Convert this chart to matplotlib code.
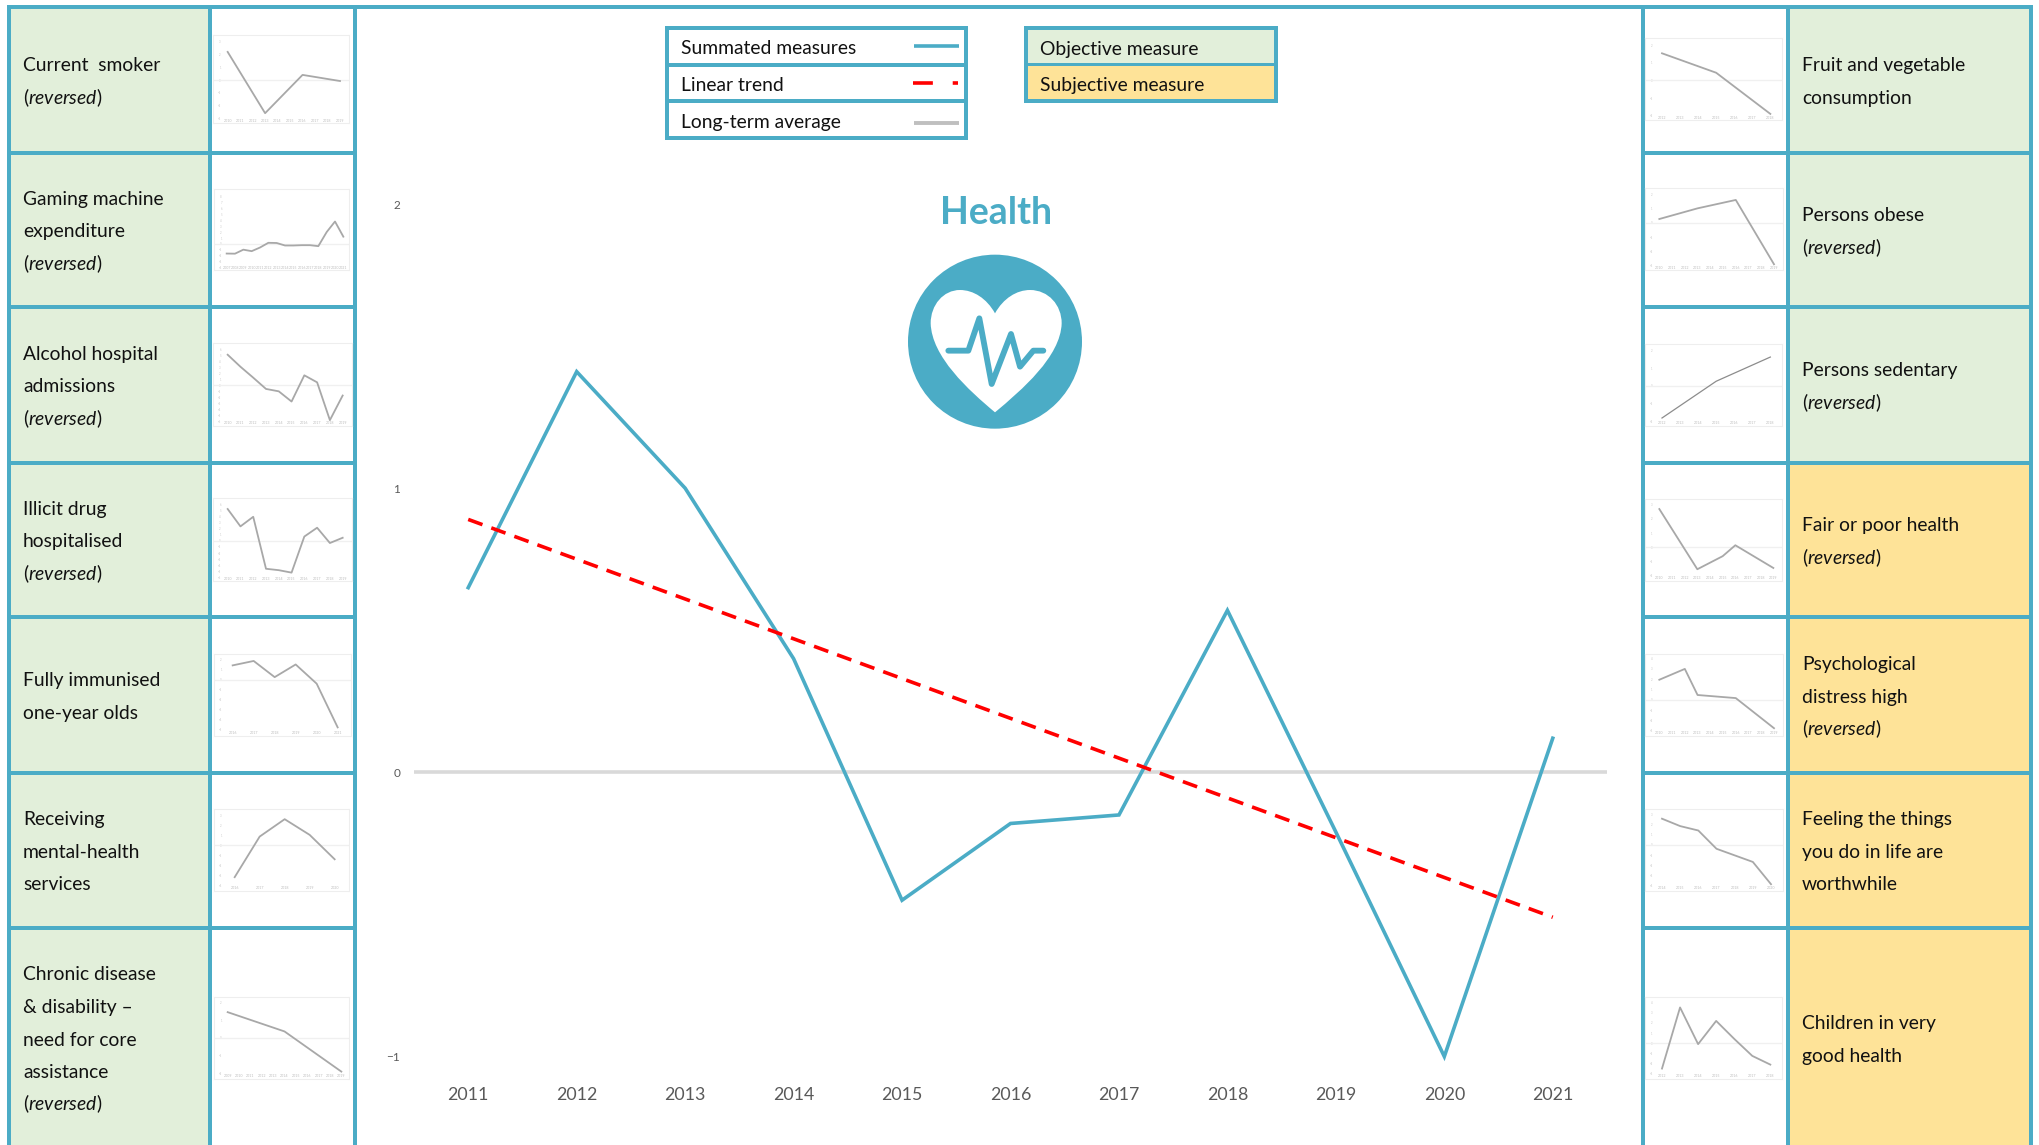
import matplotlib
matplotlib.use("Agg")
import matplotlib.pyplot as plt
from matplotlib.patches import Rectangle, Circle, PathPatch
from matplotlib.path import Path

# ---------- data ----------
years = [2011, 2012, 2013, 2014, 2015, 2016, 2017, 2018, 2019, 2020, 2021]
summated = [0.65, 1.41, 1.0, 0.40, -0.45, -0.18, -0.15, 0.57, -0.21, -1.0, 0.12]
trend_years = [2011, 2021]
trend_vals = [0.89, -0.51]
long_term_avg = [0, 0]
y_ticks = [-1, 0, 1, 2]

smoker_ticks = list(range(2010, 2020))
smoker_x = [2010, 2013, 2016, 2019]
smoker_y = [2.2, -2.6, 0.4, -0.08]

gaming_ticks = list(range(2007, 2022))
gaming_x = gaming_ticks
gaming_y = [-1.6, -1.62, -0.95, -1.2, -0.59, 0.2, 0.17, -0.25, -0.25, -0.2, -0.2, -0.36, 2.0, 3.77, 1.23]

alcohol_ticks = list(range(2010, 2020))
alcohol_x = alcohol_ticks
alcohol_y = [5.1, 3.1, 1.28, -0.6, -1.0, -2.7, 1.67, 0.5, -5.8, -1.7]

illicit_ticks = list(range(2010, 2020))
illicit_x = illicit_ticks
illicit_y = [5.2, 2.36, 3.93, -4.57, -4.8, -5.2, 0.7, 2.14, -0.36, 0.5]

immunised_ticks = list(range(2016, 2022))
immunised_x = immunised_ticks
immunised_y = [1.43, 1.87, 0.26, 1.52, -0.39, -4.74]

mental_ticks = list(range(2016, 2021))
mental_x = mental_ticks
mental_y = [-3.17, 0.87, 2.6, 1.04, -1.39]

chronic_ticks = list(range(2009, 2020))
chronic_x = [2009, 2014, 2019]
chronic_y = [1.46, 0.37, -1.9]

fruit_ticks = list(range(2012, 2019))
fruit_x = [2012, 2015, 2018]
fruit_y = [1.53, 0.43, -1.9]

obese_ticks = list(range(2010, 2020))
obese_x = [2010, 2013, 2016, 2019]
obese_y = [0.28, 1.03, 1.62, -2.9]

sedentary_ticks = list(range(2012, 2019))
sedentary_x = [2012, 2015, 2018]
sedentary_y = [-1.83, 0.25, 1.62]

fair_ticks = list(range(2010, 2020))
fair_x = [2010, 2013, 2015, 2016, 2019]
fair_y = [2.7, -1.54, -0.62, 0.15, -1.45]

distress_ticks = list(range(2010, 2020))
distress_x = [2010, 2012, 2013, 2016, 2019]
distress_y = [1.95, 3.0, 0.47, 0.17, -2.75]

worthwhile_ticks = list(range(2014, 2021))
worthwhile_x = worthwhile_ticks
worthwhile_y = [2.55, 1.83, 1.4, -0.38, -1.02, -1.66, -3.83]

children_ticks = list(range(2012, 2019))
children_x = children_ticks
children_y = [-2.5, 3.53, -0.09, 2.2, 0.43, -1.25, -2.11]

left_labels = [
    ["Current  smoker", "(@)"],
    ["Gaming machine", "expenditure", "(@)"],
    ["Alcohol hospital", "admissions", "(@)"],
    ["Illicit drug", "hospitalised", "(@)"],
    ["Fully immunised", "one-year olds"],
    ["Receiving", "mental-health", "services"],
    ["Chronic disease", "& disability \u2013", "need for core", "assistance", "(@)"],
]
right_labels = [
    ["Fruit and vegetable", "consumption"],
    ["Persons obese", "(@)"],
    ["Persons sedentary", "(@)"],
    ["Fair or poor health", "(@)"],
    ["Psychological", "distress high", "(@)"],
    ["Feeling the things", "you do in life are", "worthwhile"],
    ["Children in very", "good health"],
]
right_objective = [True, True, True, False, False, False, False]

# ---------- style ----------
TEAL = "#4BACC6"
GREEN = "#E2EFDA"
YELLOW = "#FEE398"
FONT = "Lato"
TXT = 19.3 * 0.72 / 0.72 * 0.72 * 1.0
plt.rcParams["font.family"] = FONT
plt.rcParams["mathtext.fontset"] = "custom"
plt.rcParams["mathtext.rm"] = "Lato"
plt.rcParams["mathtext.it"] = "Lato:italic"

W, H = 2040, 1145
fig = plt.figure(figsize=(W / 100, H / 100), dpi=100)
bg = fig.add_axes([0, 0, 1, 1])
bg.set_xlim(0, W)
bg.set_ylim(H, 0)
bg.axis("off")


def rect(x0, y0, x1, y1, color, z=1):
    bg.add_patch(Rectangle((x0, y0), x1 - x0, y1 - y0, fc=color, ec="none", zorder=z))


rows = [7, 153, 307, 463, 617, 773, 928, 1150]
for i in range(7):
    rect(9, rows[i], 210, rows[i + 1], GREEN)
    rect(1788, rows[i], 2031, rows[i + 1], GREEN if right_objective[i] else YELLOW)
for x in [9, 210, 355, 1643, 1788, 2031]:
    rect(x - 2, 5, x + 2, H, TEAL, 3)
rect(7, 5, 2033, 9, TEAL, 3)
for y in rows[1:7]:
    rect(7, y - 2, 357, y + 2, TEAL, 3)
    rect(1641, y - 2, 2033, y + 2, TEAL, 3)


def line_text(x, yc, lines, size=TXT):
    pitch = 32.5
    n = len(lines)
    for i, s in enumerate(lines):
        y = yc + (i - (n - 1) / 2) * pitch + 7.5
        if s == "(@)":
            s = r"($\mathit{reversed}$)"
        bg.text(x, y, s, fontsize=size, va="baseline", ha="left", color="#111111", zorder=5)


for i in range(7):
    yc = (rows[i] + min(rows[i + 1], 1148)) / 2
    line_text(23, yc, left_labels[i])
    line_text(1802, yc, right_labels[i])

# ---------- legends ----------
for x0, x1, y0, y1 in [(665, 968, 26, 140), (1024, 1278, 26, 103)]:
    rect(x0, y0, x1, y1, "white", 1)
rect(1026, 28, 1276, 64, GREEN, 2)
rect(1026, 64, 1276, 101, YELLOW, 2)
for x0, x1, y0, y1 in [(665, 968, 26, 140), (1024, 1278, 26, 103)]:
    rect(x0, y0, x1, y0 + 4, TEAL, 3)
    rect(x0, y1 - 4, x1, y1, TEAL, 3)
    rect(x0, y0, x0 + 4, y1, TEAL, 3)
    rect(x1 - 4, y0, x1, y1, TEAL, 3)
rect(665, 63, 968, 67, TEAL, 3)
rect(665, 99, 968, 103, TEAL, 3)
rect(1024, 63, 1278, 66, TEAL, 3)
for s, y in [("Summated measures", 54.5), ("Linear trend", 91), ("Long-term average", 128)]:
    bg.text(681, y, s, fontsize=TXT, va="baseline", color="#111111", zorder=5)
for s, y in [("Objective measure", 54.5), ("Subjective measure", 91)]:
    bg.text(1040, y, s, fontsize=TXT, va="baseline", color="#111111", zorder=5)
bg.plot([914, 959], [46, 46], color=TEAL, lw=2.6, zorder=5, solid_capstyle="butt")
bg.plot([913, 958], [83, 83], color="#FF0000", lw=2.6, zorder=5, dashes=(5.5, 5.5))
bg.plot([914, 959], [123, 123], color="#BFBFBF", lw=2.8, zorder=5, solid_capstyle="butt")

# ---------- title + icon ----------
bg.text(996, 213, "Health", fontsize=27, fontweight="bold", color=TEAL, ha="center", va="center", zorder=5)
ix, iy = 880, 180
def Z(x, y):
    return (ix + x / 3, iy + y / 3)
bg.add_patch(Circle(Z(345, 485), 87, fc=TEAL, ec="none", zorder=4))
heart = [
    (Path.MOVETO, (345, 400)),
    (Path.CURVE4, (320, 355)), (Path.CURVE4, (280, 330)), (Path.CURVE4, (240, 330)),
    (Path.CURVE4, (190, 330)), (Path.CURVE4, (152, 375)), (Path.CURVE4, (152, 430)),
    (Path.CURVE4, (155, 530)), (Path.CURVE4, (265, 630)), (Path.CURVE4, (345, 697)),
    (Path.CURVE4, (425, 630)), (Path.CURVE4, (542, 530)), (Path.CURVE4, (545, 430)),
    (Path.CURVE4, (545, 375)), (Path.CURVE4, (505, 330)), (Path.CURVE4, (450, 330)),
    (Path.CURVE4, (410, 330)), (Path.CURVE4, (370, 355)), (Path.CURVE4, (345, 400)),
    (Path.CLOSEPOLY, (345, 400)),
]
bg.add_patch(PathPatch(Path([Z(*p) for _, p in heart], [c for c, _ in heart]), fc="white", ec="none", zorder=5))
pulse = [(205, 512), (265, 512), (298, 415), (335, 612), (393, 462), (420, 560), (460, 512), (490, 512)]
bg.plot(*zip(*[Z(*p) for p in pulse]), color=TEAL, lw=4.2, zorder=6, solid_joinstyle="round", solid_capstyle="round")

# ---------- main chart ----------
def axes_px(x0, x1, y0, y1):
    return fig.add_axes([x0 / W, 1 - y1 / H, (x1 - x0) / W, (y1 - y0) / H], facecolor="none")


ax = axes_px(414, 1607, 204, 1056.5)
ax.set_zorder(3)
ax.set_xlim(years[0] - 0.5, years[-1] + 0.5)
ax.set_ylim(y_ticks[0], y_ticks[-1])
for s in ax.spines.values():
    s.set_visible(False)
ax.plot([years[0] - 0.5, years[-1] + 0.5], long_term_avg, color="#D9D9D9", lw=2.6, solid_capstyle="butt")
ax.plot(years, summated, color=TEAL, lw=2.6, clip_on=False, solid_joinstyle="miter")
ax.plot(trend_years, trend_vals, color="#FF0000", lw=2.6, dashes=(4.2, 2.6))
ax.set_xticks(years)
ax.set_xticklabels([str(y) for y in years])
ax.set_yticks(y_ticks)
ax.tick_params(axis="x", length=0, pad=22, labelsize=16 * 0.8, labelcolor="#595959")
ax.tick_params(axis="y", length=0, pad=10, labelsize=8.5, labelcolor="#595959")

# ---------- sparklines ----------
# frame x0,x1,y0,y1 (figure pixels), first/last tick x, zero y, px per unit, y tick range
top3 = lambda v: v / 3
low = lambda v: 460 + v / 2.289
lx = lambda v: v / 3
rx = lambda v: 1630 + v / 3
sparks = [
    (smoker_ticks, smoker_x, smoker_y, lx, top3, 640, 1046, 105, 370, 683, 1020, 240, 38.3, -3, 3, 1),
    (gaming_ticks, gaming_x, gaming_y, lx, top3, 643, 1048, 568, 811, 680, 1030, 732, 17.9, -4, 8, 1),
    (alcohol_ticks, alcohol_x, alcohol_y, lx, top3, 640, 1055, 1030, 1277, 683, 1028, 1156, 18, -6, 6, 1),
    (illicit_ticks, illicit_x, illicit_y, lx, low, 640, 1055, 88, 278, 683, 1028, 185, 14, -6, 6, 1),
    (immunised_ticks, immunised_x, immunised_y, lx, low, 643, 1052, 443, 631, 698, 1013, 503, 23, -5, 2, 1),
    (mental_ticks, mental_x, mental_y, lx, low, 643, 1048, 800, 986, 704, 1004, 882, 23, -4, 3, 1),
    (chronic_ticks, chronic_x, chronic_y, lx, low, 643, 1048, 1230, 1416, 683, 1024, 1323, 40.5, -2, 2, 1),
    (fruit_ticks, fruit_x, fruit_y, rx, top3, 45, 455, 115, 361, 96, 421, 241, 53, -2, 2, 1),
    (obese_ticks, obese_x, obese_y, rx, top3, 45, 458, 565, 811, 88, 432, 669, 42.7, -3, 2, 1),
    (sedentary_ticks, sedentary_x, sedentary_y, rx, top3, 45, 455, 1033, 1277, 96, 421, 1157, 53, -2, 2, 0),
    (fair_ticks, fair_x, fair_y, rx, low, 45, 455, 90, 276, 88, 430, 200, 32.5, -2, 3, 1),
    (distress_ticks, distress_x, distress_y, rx, low, 45, 458, 443, 631, 88, 432, 549, 23.6, -3, 4, 1),
    (worthwhile_ticks, worthwhile_x, worthwhile_y, rx, low, 45, 458, 798, 986, 96, 423, 881, 23.5, -4, 3, 1),
    (children_ticks, children_x, children_y, rx, low, 45, 455, 1230, 1416, 96, 421, 1335, 23.2, -3, 4, 1),
]
for ticks, xs, ys, fx, fy, fx0, fx1, fy0, fy1, t0, t1, zero, unit, ymin, ymax, soft in sparks:
    a = axes_px(fx(fx0), fx(fx1), fy(fy0), fy(fy1))
    a.set_zorder(4)
    per = (t1 - t0) / (ticks[-1] - ticks[0])
    a.set_xlim(ticks[0] - (t0 - fx0) / per, ticks[-1] + (fx1 - t1) / per)
    a.set_ylim((zero - fy1) / unit, (zero - fy0) / unit)
    for s in a.spines.values():
        s.set_color("#EEEEEE")
        s.set_linewidth(0.8)
    a.axhline(0, color="#F0F0F0", lw=1.0)
    a.plot(xs, ys, color="#A8A8A8" if soft else "#8C8C8C", lw=1.3 if soft else 0.9)
    a.set_xticks(ticks)
    a.set_xticklabels([str(t) for t in ticks])
    a.set_yticks(range(ymin, ymax + 1))
    a.tick_params(axis="x", length=0, pad=-3.2, labelsize=2.6, labelcolor="#BDBDBD")
    a.tick_params(axis="y", length=0, pad=-5.5, labelsize=2.0, labelcolor="#C8C8C8")

fig.savefig("out.png", dpi=100)
